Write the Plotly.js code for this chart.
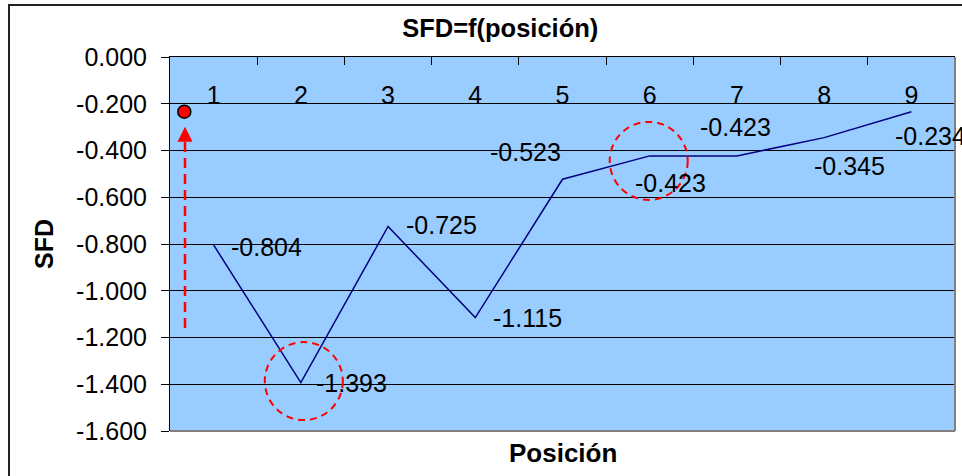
<!DOCTYPE html>
<html>
<head>
<meta charset="utf-8">
<script src="https://cdn.plot.ly/plotly-3.0.1.min.js"></script>
<style>
  html, body { margin: 0; padding: 0; overflow: hidden; background: #fff; }
  #chart { width: 962px; height: 476px; }
  #frame { position: absolute; left: 8px; top: 4px; width: 2000px; height: 2000px;
           border-left: 2px solid #222; border-top: 2px solid #222; pointer-events: none; }
</style>
</head>
<body>
<div id="chart"></div>
<div id="frame"></div>
<script>
// ---- data ----
const positions = [1, 2, 3, 4, 5, 6, 7, 8, 9];
const positionLabels = ['1', '2', '3', '4', '5', '6', '7', '8', '9'];
const boundaries = [0.5, 1.5, 2.5, 3.5, 4.5, 5.5, 6.5, 7.5, 8.5, 9.5];
const sfd = [-0.804, -1.393, -0.725, -1.115, -0.523, -0.423, -0.423, -0.345, -0.234];
const yTickVals = [0, -0.2, -0.4, -0.6, -0.8, -1.0, -1.2, -1.4, -1.6];
const yTickText = ['0.000', '-0.200', '-0.400', '-0.600', '-0.800', '-1.000', '-1.200', '-1.400', '-1.600'];

// ---- styling / decorations ----
const labelShiftX = [53, 51, 53, 52, -37, 21, -1, 25, 19];
const labelShiftY = [-2, 0, 1, 0, 27, -27, 29, -28, -24];
const markerPoint = { x: 0.664, y: -0.234 };
const arrowX = 0.672, arrowBottom = -1.159, arrowHeadBase = -0.362, arrowTip = -0.298;
const circles = [
  { idx: 1, dx: 3, dy: 1.5, r: 39 },
  { idx: 5, dx: -1, dy: -5, r: 39 }
];

const FONT = 'Liberation Sans, Arial, Helvetica, sans-serif';

const traces = [
  {
    x: positions, y: sfd, type: 'scatter', mode: 'lines', xaxis: 'x2', yaxis: 'y',
    line: { color: '#000080', width: 1.5 }, cliponaxis: false, name: 'SFD'
  },
  {
    x: [markerPoint.x], y: [markerPoint.y], type: 'scatter', mode: 'markers', xaxis: 'x', yaxis: 'y',
    marker: { color: '#FF0000', size: 13, line: { color: '#000', width: 1.5 } },
    cliponaxis: false
  }
];

const annotations = positions.map((p, i) => ({
  x: p, y: sfd[i], xref: 'x', yref: 'y', text: sfd[i].toFixed(3),
  showarrow: false, xshift: labelShiftX[i], yshift: labelShiftY[i],
  font: { family: FONT, size: 25, color: '#000' }
}));
annotations.push({
  text: '<b>Posición</b>', xref: 'paper', yref: 'paper', x: 0.5, y: -0.058,
  xanchor: 'center', yanchor: 'middle', showarrow: false,
  font: { family: FONT, size: 26, color: '#000' }
});

const shapes = [
  { type: 'line', xref: 'x', yref: 'y', x0: arrowX, x1: arrowX, y0: arrowBottom, y1: arrowHeadBase,
    line: { color: '#FF0000', width: 2.5, dash: '10px,6px' } },
  { type: 'path', xref: 'x', yref: 'y', xsizemode: 'pixel', ysizemode: 'pixel',
    xanchor: arrowX, yanchor: arrowTip, path: 'M0,0 L-7.5,-15 L7.5,-15 Z',
    fillcolor: '#FF0000', line: { width: 0 } }
];
circles.forEach(c => {
  shapes.push({
    type: 'circle', xref: 'x', yref: 'y', xsizemode: 'pixel', ysizemode: 'pixel',
    xanchor: positions[c.idx], yanchor: sfd[c.idx],
    x0: c.dx - c.r, x1: c.dx + c.r, y0: c.dy - c.r, y1: c.dy + c.r,
    line: { color: '#FF0000', width: 2, dash: '7px,5px' }
  });
});
shapes.push({ type: 'line', xref: 'paper', yref: 'paper', x0: 1, x1: 1, y0: 0, y1: 1,
  line: { color: '#808080', width: 2 } });
shapes.push({ type: 'line', xref: 'paper', yref: 'paper', x0: 0, x1: 1, y0: 0, y1: 0,
  line: { color: '#808080', width: 2 } });

const layout = {
  width: 962, height: 476,
  margin: { l: 170, r: 7, t: 57, b: 45, pad: 0 },
  paper_bgcolor: '#FFFFFF', plot_bgcolor: '#99CCFF',
  showlegend: false,
  font: { family: FONT, color: '#000' },
  title: {
    text: '<b>SFD=f(posición)</b>', xref: 'container', yref: 'container',
    x: 0.52, y: 0.94, xanchor: 'center', yanchor: 'middle',
    font: { family: FONT, size: 25.5, color: '#000' }
  },
  // top axis: line + inward ticks at category boundaries
  xaxis: {
    type: 'linear', range: [0.5, 9.5], side: 'top',
    tickmode: 'array', tickvals: boundaries, ticktext: boundaries.map(() => ''),
    ticks: 'inside', ticklen: 8, tickcolor: '#000', tickwidth: 1,
    showticklabels: false,
    showgrid: false, zeroline: false,
    showline: true, linecolor: '#000', linewidth: 1,
    fixedrange: true
  },
  // category labels drawn just under the top edge
  xaxis2: {
    type: 'linear', range: [0.5, 9.5], overlaying: 'x', anchor: 'free', position: 0.943, side: 'bottom',
    tickmode: 'array', tickvals: positions, ticktext: positionLabels,
    ticks: '', showline: false, showgrid: false, zeroline: false,
    tickfont: { family: FONT, size: 25, color: '#000' },
    fixedrange: true
  },
  yaxis: {
    range: [-1.6, 0], tickmode: 'array', tickvals: yTickVals, ticktext: yTickText,
    ticks: 'outside', ticklen: 8, tickcolor: '#000', tickwidth: 1,
    ticklabelstandoff: 9,
    tickfont: { family: FONT, size: 25, color: '#000' },
    showgrid: true, gridcolor: '#000', gridwidth: 1,
    zeroline: false, showline: true, linecolor: '#000', linewidth: 1,
    title: { text: '<b>SFD</b>', font: { family: FONT, size: 25, color: '#000' }, standoff: 15 },
    automargin: false, fixedrange: true
  },
  annotations: annotations,
  shapes: shapes
};

Plotly.newPlot('chart', traces, layout, { displayModeBar: false, staticPlot: true });
</script>
</body>
</html>
